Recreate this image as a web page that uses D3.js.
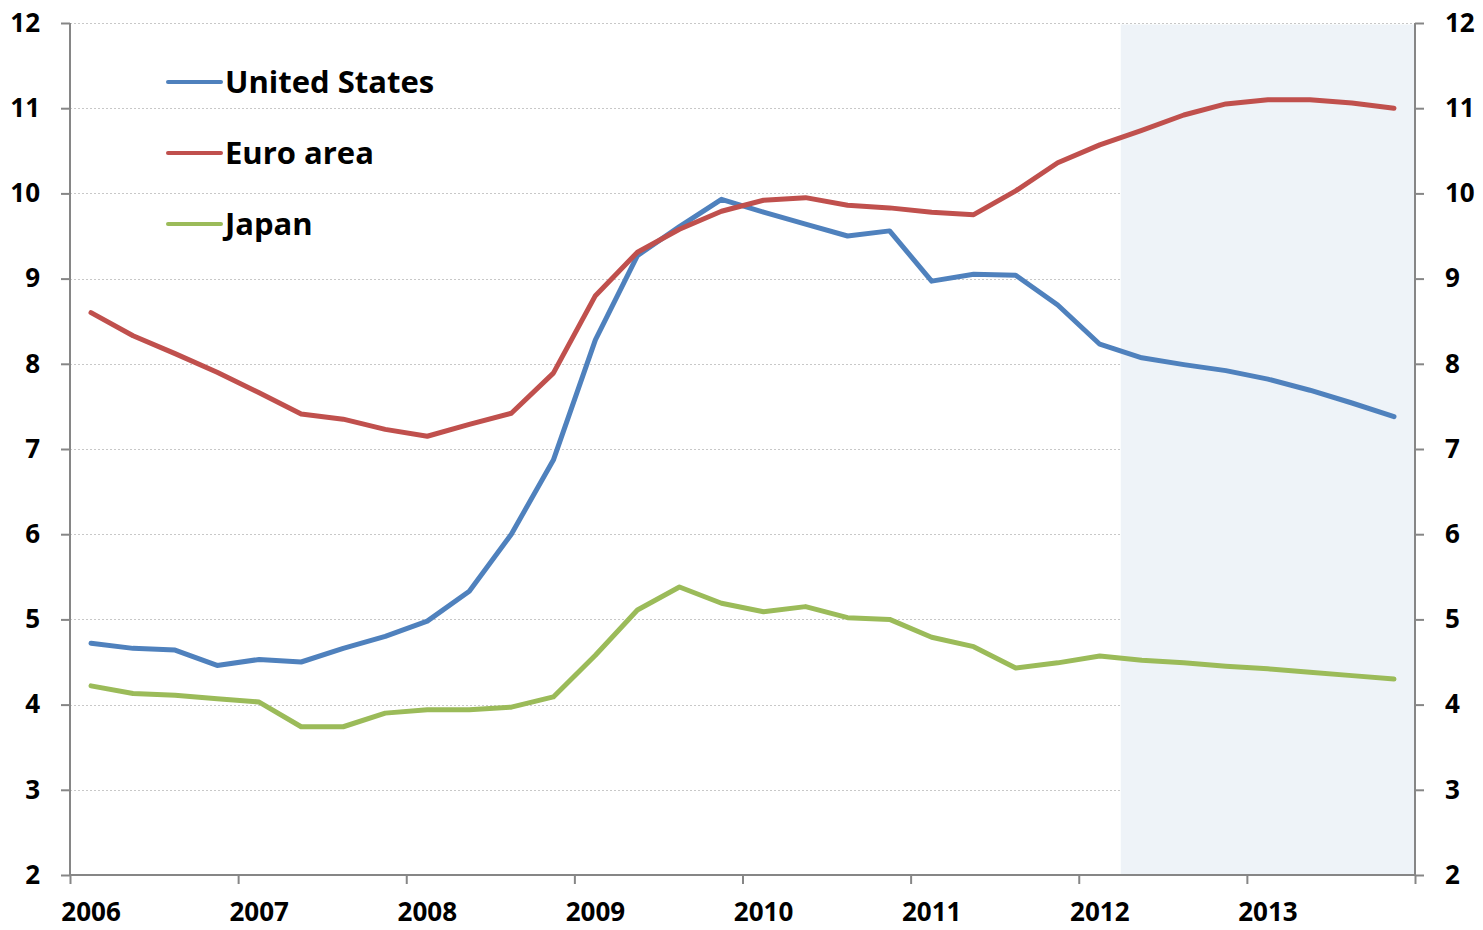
<!DOCTYPE html>
<html>
<head>
<meta charset="utf-8">
<script src="https://cdn.jsdelivr.net/npm/d3@7"></script>
<style>
  body { margin: 0; background: #fff; }
  .chart text { font-family: "Open Sans", sans-serif; font-weight: bold; fill: #000; }
</style>
</head>
<body>
<div class="chart"></div>
<script>
// quarterly periods, 2006Q1 .. 2013Q4
var quarters = [];
for (var y = 2006; y <= 2013; y++) for (var q = 0; q < 4; q++) quarters.push(y + (q + 0.5) / 4);

var years = [2006, 2007, 2008, 2009, 2010, 2011, 2012, 2013];
var yTicks = [2, 3, 4, 5, 6, 7, 8, 9, 10, 11, 12];

var unitedStates = [4.72, 4.66, 4.64, 4.46, 4.53, 4.50, 4.66, 4.80, 4.98, 5.33, 6.00, 6.87,
    8.28, 9.27, 9.61, 9.93, 9.78, 9.64, 9.50, 9.56, 8.97, 9.05, 9.04, 8.69,
    8.23, 8.07, 7.99, 7.92, 7.82, 7.69, 7.54, 7.38];
var euroArea = [8.60, 8.33, 8.12, 7.90, 7.66, 7.41, 7.35, 7.23, 7.15, 7.29, 7.42, 7.89,
    8.80, 9.31, 9.58, 9.79, 9.92, 9.95, 9.86, 9.83, 9.78, 9.75, 10.03, 10.36,
    10.57, 10.74, 10.92, 11.05, 11.10, 11.10, 11.06, 11.00];
var japan = [4.22, 4.13, 4.11, 4.07, 4.03, 3.74, 3.74, 3.90, 3.94, 3.94, 3.97, 4.09,
    4.58, 5.11, 5.38, 5.19, 5.09, 5.15, 5.02, 5.00, 4.79, 4.68, 4.43, 4.49,
    4.57, 4.52, 4.49, 4.45, 4.42, 4.38, 4.34, 4.30];

var seriesNames = ["United States", "Euro area", "Japan"];
var seriesColors = ["#4F81BD", "#C0504D", "#9BBB59"];
var seriesValues = [unitedStates, euroArea, japan];

// projection period shaded
var shadeFrom = 2012.25, shadeTo = 2014;

var W = 1483, H = 930;
var margin = ({top: 23, right: 68, bottom: 55, left: 70});
var width = W - margin.left - margin.right,
    height = H - margin.top - margin.bottom;

var svg = d3.select(".chart").append("svg")
    .attr("width", W)
    .attr("height", H)
    .append("g")
    .attr("transform", "translate(" + margin.left + "," + margin.top + ")");

var x = d3.scaleLinear().domain([2006, 2014]).range([0, width]);
var yScale = d3.scaleLinear().domain([2, 12]).range([height, 0]);

// gridlines
svg.append("g")
    .selectAll("line")
    .data(yTicks.filter(d => d > 2))
    .join("line")
    .attr("x1", 0)
    .attr("x2", width)
    .attr("y1", d => Math.round(yScale(d)) + 0.5)
    .attr("y2", d => Math.round(yScale(d)) + 0.5)
    .attr("stroke", "#c8c8c8")
    .attr("stroke-width", 1)
    .attr("stroke-dasharray", "2,2");

// shaded forecast area
svg.append("rect")
    .attr("x", x(shadeFrom))
    .attr("y", yScale(12) + 1.5)
    .attr("width", x(shadeTo) - x(shadeFrom))
    .attr("height", yScale(2) - yScale(12) - 1.5)
    .attr("fill", "#EEF3F8");

// axes
var axisColor = "#868686";
var left = svg.append("g")
    .call(d3.axisLeft(yScale).tickValues(yTicks).tickSize(9).tickPadding(21));
var right = svg.append("g")
    .attr("transform", "translate(" + width + ",0)")
    .call(d3.axisRight(yScale).tickValues(yTicks).tickSize(9).tickPadding(21));
var bottom = svg.append("g")
    .attr("transform", "translate(0," + height + ")")
    .call(d3.axisBottom(x).tickValues(d3.range(2006, 2015)).tickSize(9).tickFormat(""));

[left, right, bottom].forEach(a => {
    a.select(".domain").attr("stroke", axisColor).attr("stroke-width", 2);
    a.selectAll(".tick line").attr("stroke", axisColor).attr("stroke-width", 2);
    a.selectAll("text").style("font-size", "26px").attr("fill", "#000");
});
left.select(".domain").attr("d", "M0," + height + "V0");
right.select(".domain").attr("d", "M0," + height + "V0");
bottom.select(".domain").attr("d", "M0,0H" + width);

// year labels centred on the first quarter
svg.append("g")
    .selectAll("text")
    .data(years)
    .join("text")
    .attr("x", d => x(d + 0.125))
    .attr("y", height + 46)
    .attr("text-anchor", "middle")
    .style("font-size", "26px")
    .text(d => d);

// series lines
var line = d3.line()
    .x((d, i) => x(quarters[i]))
    .y(d => yScale(d));

svg.append("g")
    .selectAll("path")
    .data(seriesValues)
    .join("path")
    .attr("d", d => line(d))
    .attr("fill", "none")
    .attr("stroke", (d, i) => seriesColors[i])
    .attr("stroke-width", 5)
    .attr("stroke-linejoin", "round")
    .attr("stroke-linecap", "round");

// legend
var legend = svg.append("g")
    .selectAll("g")
    .data(seriesNames)
    .join("g")
    .attr("transform", (d, i) => "translate(98," + (59 + i * 71) + ")");

legend.append("line")
    .attr("x1", 0)
    .attr("x2", 53)
    .attr("stroke", (d, i) => seriesColors[i])
    .attr("stroke-width", 4)
    .attr("stroke-linecap", "round");

legend.append("text")
    .attr("x", 57)
    .attr("y", 11)
    .style("font-size", "31px")
    .text(d => d);
</script>
</body>
</html>
